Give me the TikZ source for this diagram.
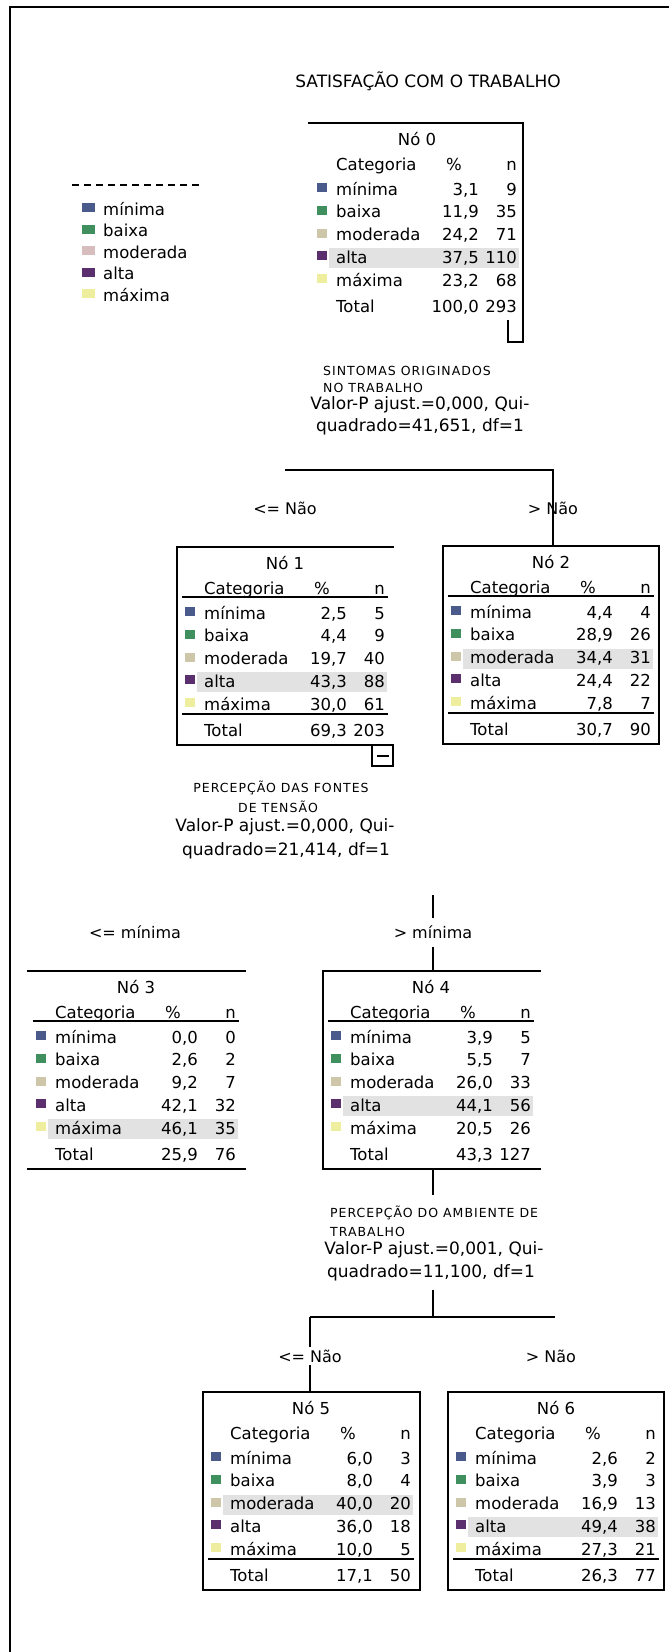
\documentclass[tikz,border=0pt]{standalone}
\usepackage{fontspec}
\setmainfont{DejaVu Sans}
\newfontfamily\capsfont[LetterSpace=8]{DejaVu Sans}
\definecolor{cmin}{HTML}{4A5A8A}
\definecolor{cbai}{HTML}{3F8F5F}
\definecolor{cmod}{HTML}{CDC6A9}
\definecolor{cmodleg}{HTML}{D8BDBE}
\definecolor{calt}{HTML}{5B2E6E}
\definecolor{cmax}{HTML}{EFEE9E}
\definecolor{hl}{HTML}{E2E2E2}
\tikzset{
  txt/.style={font=\fontsize{16.5}{19}\selectfont, inner sep=0pt},
  stat/.style={font=\fontsize{17}{19}\selectfont, inner sep=0pt},
  ttl/.style={font=\fontsize{17}{19}\selectfont, inner sep=0pt},
  capt/.style={font=\capsfont\fontsize{12.5}{14}\selectfont, inner sep=0pt},
  boxline/.style={line width=1.6pt, line cap=rect},
  conn/.style={line width=1.6pt},
  framel/.style={line width=2.6pt},
  lbl/.style={font=\fontsize{16}{19}\selectfont, inner sep=0pt}
}
\newcommand\tabhead[5]{%
  \fill[hl] (#2+20,#3+57+22.75*#5) rectangle (#2+210,#3+77+22.75*#5);
  \node[txt,anchor=base] (#1t) at (#2+108,#3+22) {#4};
  \node[txt,anchor=base west] (#1c) at (#2+27,#3+47) {Categoria};
  \node[txt,anchor=base] (#1p) at (#2+145,#3+47) {\%};
  \node[txt,anchor=base east] (#1n) at (#2+208,#3+47) {n};
}
\newcommand\tabrow[8]{%
  \fill[#5] (#2+8,#3+60+22.75*#4) rectangle (#2+18,#3+69+22.75*#4);
  \node[txt,anchor=base west] (#1l#4) at (#2+27,#3+72+22.75*#4) {#6};
  \node[txt,anchor=base east] (#1p#4) at (#2+170,#3+72+22.75*#4) {#7};
  \node[txt,anchor=base east] (#1n#4) at (#2+208,#3+72+22.75*#4) {#8};
}
\newcommand\tabtot[5]{%
  \node[txt,anchor=base west] (#1lt) at (#2+27,#3+189) {Total};
  \node[txt,anchor=base east] (#1pt) at (#2+170,#3+189) {#4};
  \node[txt,anchor=base east] (#1nt) at (#2+208,#3+189) {#5};
}
\newcommand\headline[3]{\draw[boxline] (#2+6,#3+50) -- (#2+210,#3+50);}
\newcommand\totline[3]{\draw[boxline] (#2+6,#3+167) -- (#2+210,#3+167);}
\begin{document}
\begin{tikzpicture}[x=1pt,y=-1pt]
\useasboundingbox (0,0) rectangle (669,1652);
\fill[white] (0,0) rectangle (669,1652);
% frame
\draw[framel] (10,1652) -- (10,7) -- (669,7);
% title
\node[ttl] (title) at (428,81) {SATISFAÇÃO COM O TRABALHO};
% legend
\draw[line width=1.8pt, dash pattern=on 7pt off 5pt] (72,185) -- (200,185);
\foreach \c/\t [count=\i from 0] in {cmin/mínima,cbai/baixa,cmodleg/moderada,calt/alta,cmax/máxima}{
  \fill[\c] (82,203+21.5*\i) rectangle (95,212+21.5*\i);
  \node[txt,anchor=base west] (leg\i) at (103,215+21.5*\i) {\t};
}
% ---------- Nó 0 ----------
\tabhead{n0}{309}{123}{Nó 0}{3}
\tabrow{n0}{309}{123}{0}{cmin}{mínima}{3,1}{9}
\tabrow{n0}{309}{123}{1}{cbai}{baixa}{11,9}{35}
\tabrow{n0}{309}{123}{2}{cmod}{moderada}{24,2}{71}
\tabrow{n0}{309}{123}{3}{calt}{alta}{37,5}{110}
\tabrow{n0}{309}{123}{4}{cmax}{máxima}{23,2}{68}
\tabtot{n0}{309}{123}{100,0}{293}
\draw[boxline] (309,123) -- (523,123) -- (523,342) -- (508,342) -- (508,321);
% split 1
\node[capt,anchor=base west] (s1a) at (323,375) {SINTOMAS ORIGINADOS};
\node[capt,anchor=base west] (s1b) at (323,392) {NO TRABALHO};
\node[stat] (s1c) at (420,405) {Valor-P ajust.=0,000, Qui-};
\node[stat] (s1d) at (420,427) {quadrado=41,651, df=1};
\coordinate (b1l) at (285,470);
\coordinate (b1r) at (553,470);
\coordinate (n2top) at (553,546);
\draw[conn] (b1l) -- (b1r) -- (n2top);
\node[lbl] (e1) at (285,508) {<= Não};
\node[lbl] (e2) at (553,508) {> Não};
% ---------- Nó 1 ----------
\tabhead{n1}{177}{547}{Nó 1}{3}
\headline{n1}{177}{547}
\tabrow{n1}{177}{547}{0}{cmin}{mínima}{2,5}{5}
\tabrow{n1}{177}{547}{1}{cbai}{baixa}{4,4}{9}
\tabrow{n1}{177}{547}{2}{cmod}{moderada}{19,7}{40}
\tabrow{n1}{177}{547}{3}{calt}{alta}{43,3}{88}
\tabrow{n1}{177}{547}{4}{cmax}{máxima}{30,0}{61}
\totline{n1}{177}{547}
\tabtot{n1}{177}{547}{69,3}{203}
\draw[boxline] (393,547) -- (177,547) -- (177,745) -- (393,745);
\draw[boxline] (372,745) -- (372,766) -- (393,766) -- (393,745);
\draw[line width=1.4pt] (377,756) -- (389,756);
% ---------- Nó 2 ----------
\tabhead{n2}{443}{546}{Nó 2}{2}
\headline{n2}{443}{546}
\tabrow{n2}{443}{546}{0}{cmin}{mínima}{4,4}{4}
\tabrow{n2}{443}{546}{1}{cbai}{baixa}{28,9}{26}
\tabrow{n2}{443}{546}{2}{cmod}{moderada}{34,4}{31}
\tabrow{n2}{443}{546}{3}{calt}{alta}{24,4}{22}
\tabrow{n2}{443}{546}{4}{cmax}{máxima}{7,8}{7}
\totline{n2}{443}{546}
\tabtot{n2}{443}{546}{30,7}{90}
\draw[boxline] (443,546) rectangle (659,744);
% split 2
\node[capt] (s2a) at (281,788) {PERCEPÇÃO DAS FONTES};
\node[capt] (s2b) at (278,807) {DE TENSÃO};
\node[stat] (s2c) at (285,827) {Valor-P ajust.=0,000, Qui-};
\node[stat] (s2d) at (286,851) {quadrado=21,414, df=1};
\coordinate (b2t) at (433,895);
\coordinate (b2m1) at (433,918);
\coordinate (b2m2) at (433,947);
\coordinate (n4top) at (433,971);
\draw[conn] (b2t) -- (b2m1);
\draw[conn] (b2m2) -- (n4top);
\node[lbl] (e3) at (135,932) {<= mínima};
\node[lbl] (e4) at (433,932) {> mínima};
% ---------- Nó 3 ----------
\tabhead{n3}{28}{971}{Nó 3}{4}
\headline{n3}{28}{971}
\tabrow{n3}{28}{971}{0}{cmin}{mínima}{0,0}{0}
\tabrow{n3}{28}{971}{1}{cbai}{baixa}{2,6}{2}
\tabrow{n3}{28}{971}{2}{cmod}{moderada}{9,2}{7}
\tabrow{n3}{28}{971}{3}{calt}{alta}{42,1}{32}
\tabrow{n3}{28}{971}{4}{cmax}{máxima}{46,1}{35}
\tabtot{n3}{28}{971}{25,9}{76}
\draw[boxline] (28,971) -- (245,971);
\draw[boxline] (28,1169) -- (245,1169);
% ---------- Nó 4 ----------
\tabhead{n4}{323}{971}{Nó 4}{3}
\headline{n4}{323}{971}
\tabrow{n4}{323}{971}{0}{cmin}{mínima}{3,9}{5}
\tabrow{n4}{323}{971}{1}{cbai}{baixa}{5,5}{7}
\tabrow{n4}{323}{971}{2}{cmod}{moderada}{26,0}{33}
\tabrow{n4}{323}{971}{3}{calt}{alta}{44,1}{56}
\tabrow{n4}{323}{971}{4}{cmax}{máxima}{20,5}{26}
\tabtot{n4}{323}{971}{43,3}{127}
\draw[boxline] (540,971) -- (323,971) -- (323,1169) -- (540,1169);
% split 3
\coordinate (n4bot) at (433,1169);
\coordinate (s3top) at (433,1195);
\draw[conn] (n4bot) -- (s3top);
\node[capt,anchor=base west] (s3a) at (330,1217) {PERCEPÇÃO DO AMBIENTE DE};
\node[capt,anchor=base west] (s3b) at (330,1236) {TRABALHO};
\node[stat] (s3c) at (434,1250) {Valor-P ajust.=0,001, Qui-};
\node[stat] (s3d) at (431,1273) {quadrado=11,100, df=1};
\coordinate (b3t) at (433,1290);
\coordinate (b3m) at (433,1317);
\coordinate (b3l) at (310,1317);
\coordinate (b3r) at (555,1317);
\coordinate (n5top) at (310,1392);
\draw[conn] (b3t) -- (b3m);
\draw[conn] (b3l) -- (b3r);
\draw[conn] (b3l) -- (n5top);
\node[lbl,fill=white,inner xsep=2pt,inner ysep=3pt] (e5) at (310,1356) {<= Não};
\node[lbl] (e6) at (551,1356) {> Não};
% ---------- Nó 5 ----------
\tabhead{n5}{203}{1392}{Nó 5}{2}
\tabrow{n5}{203}{1392}{0}{cmin}{mínima}{6,0}{3}
\tabrow{n5}{203}{1392}{1}{cbai}{baixa}{8,0}{4}
\tabrow{n5}{203}{1392}{2}{cmod}{moderada}{40,0}{20}
\tabrow{n5}{203}{1392}{3}{calt}{alta}{36,0}{18}
\tabrow{n5}{203}{1392}{4}{cmax}{máxima}{10,0}{5}
\totline{n5}{203}{1392}
\tabtot{n5}{203}{1392}{17,1}{50}
\draw[boxline] (203,1392) rectangle (420,1590);
% ---------- Nó 6 ----------
\tabhead{n6}{448}{1392}{Nó 6}{3}
\tabrow{n6}{448}{1392}{0}{cmin}{mínima}{2,6}{2}
\tabrow{n6}{448}{1392}{1}{cbai}{baixa}{3,9}{3}
\tabrow{n6}{448}{1392}{2}{cmod}{moderada}{16,9}{13}
\tabrow{n6}{448}{1392}{3}{calt}{alta}{49,4}{38}
\tabrow{n6}{448}{1392}{4}{cmax}{máxima}{27,3}{21}
\totline{n6}{448}{1392}
\tabtot{n6}{448}{1392}{26,3}{77}
\draw[boxline] (448,1392) rectangle (664,1590);
\end{tikzpicture}
\end{document}
